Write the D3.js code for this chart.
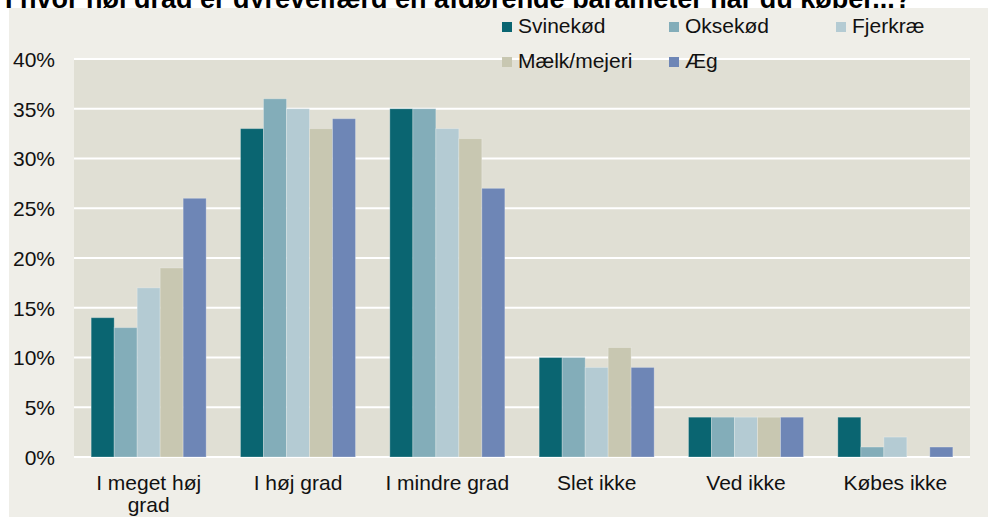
<!DOCTYPE html>
<html><head><meta charset="utf-8">
<script src="https://cdn.jsdelivr.net/npm/d3@7"></script>
<style>
html,body{margin:0;padding:0;background:#fff;}
svg{display:block;font-family:Arial,"Liberation Sans",sans-serif;}
</style></head>
<body>
<svg id="chart" width="988" height="517"></svg>
<script>
const title = "I hvor høj grad er dyrevelfærd en afgørende parameter når du køber...?";
const categories = [["I meget høj", "grad"], ["I høj grad"], ["I mindre grad"], ["Slet ikke"], ["Ved ikke"], ["Købes ikke"]];
const seriesNames = ["Svinekød", "Oksekød", "Fjerkræ", "Mælk/mejeri", "Æg"];
const seriesColors = ["#0a6571", "#83adb9", "#b4cbd3", "#c8c7b1", "#6e86b6"];
const svinekod = [14, 33, 35, 10, 4, 4];
const oksekod  = [13, 36, 35, 10, 4, 1];
const fjerkrae = [17, 35, 33, 9, 4, 2];
const maelk    = [19, 33, 32, 11, 4, 0];
const aeg      = [26, 34, 27, 9, 4, 1];
const seriesValues = [svinekod, oksekod, fjerkrae, maelk, aeg];
const yTicks = [0, 5, 10, 15, 20, 25, 30, 35, 40];

const svg = d3.select("#chart");
// title (partly hidden behind chart panel, as in the reference)
svg.append("text").attr("x", 5).attr("y", 8)
  .attr("font-size", 27).attr("font-weight", "bold").attr("fill", "#000")
  .text(title);
// chart panel
svg.append("rect").attr("x", 9).attr("y", 8).attr("width", 979).attr("height", 509).attr("fill", "#efeee8");

const plot = {left: 74, right: 970, top: 59, bottom: 457};
svg.append("rect").attr("x", plot.left).attr("y", plot.top)
  .attr("width", plot.right - plot.left).attr("height", plot.bottom - plot.top).attr("fill", "#e0dfd4");

const catKeys = categories.map(c => c.join(" "));
const x0 = d3.scaleBand().domain(catKeys).range([plot.left, plot.right]).paddingInner(0.23).paddingOuter(0.115);
const x1 = d3.scaleBand().domain(seriesNames).range([0, x0.bandwidth()]).padding(0);
const y = d3.scaleLinear().domain([0, 40]).range([plot.bottom, plot.top]);

// gridlines
svg.append("g").selectAll("line").data(yTicks).join("line")
  .attr("x1", plot.left).attr("x2", plot.right)
  .attr("y1", d => y(d)).attr("y2", d => y(d))
  .attr("stroke", "#ffffff").attr("stroke-width", 2);

// y axis
const yAxis = d3.axisLeft(y).tickValues(yTicks).tickFormat(d => d + "%").tickSize(0).tickPadding(0);
const ya = svg.append("g").attr("transform", `translate(55,0)`).call(yAxis);
ya.select(".domain").remove();
ya.selectAll("text").attr("font-size", 21).attr("fill", "#111").attr("font-family", "Arial, 'Liberation Sans', sans-serif").attr("dy", "0.35em");

// bars
const groups = svg.append("g").selectAll("g").data(catKeys).join("g")
  .attr("transform", d => `translate(${x0(d)},0)`);
groups.selectAll("rect").data((d, i) => seriesNames.map((s, j) => ({s, j, v: seriesValues[j][i]})))
  .join("rect")
  .attr("x", d => x1(d.s)).attr("width", x1.bandwidth())
  .attr("y", d => y(d.v)).attr("height", d => y(0) - y(d.v))
  .attr("fill", d => seriesColors[d.j])
  .attr("stroke", "rgba(255,255,255,0.25)").attr("stroke-width", 1);

// x labels
const xl = svg.append("g").selectAll("text").data(categories).join("text")
  .attr("x", (d, i) => x0(catKeys[i]) + x0.bandwidth() / 2)
  .attr("y", 490).attr("text-anchor", "middle").attr("font-size", 21).attr("fill", "#111");
xl.selectAll("tspan").data(d => d).join("tspan")
  .attr("x", function() { return this.parentNode.getAttribute("x"); })
  .attr("dy", (d, i) => i === 0 ? 0 : 22).text(d => d);

// legend
const legX = [502, 669, 836];
const legY = [22, 57];
const leg = svg.append("g").selectAll("g").data(seriesNames).join("g")
  .attr("transform", (d, i) => `translate(${legX[i % 3]},${legY[Math.floor(i / 3)]})`);
leg.append("rect").attr("width", 10).attr("height", 10).attr("fill", (d, i) => seriesColors[i]);
leg.append("text").attr("x", 16).attr("y", 11).attr("font-size", 21).attr("fill", "#111").text(d => d);
</script>
</body></html>
